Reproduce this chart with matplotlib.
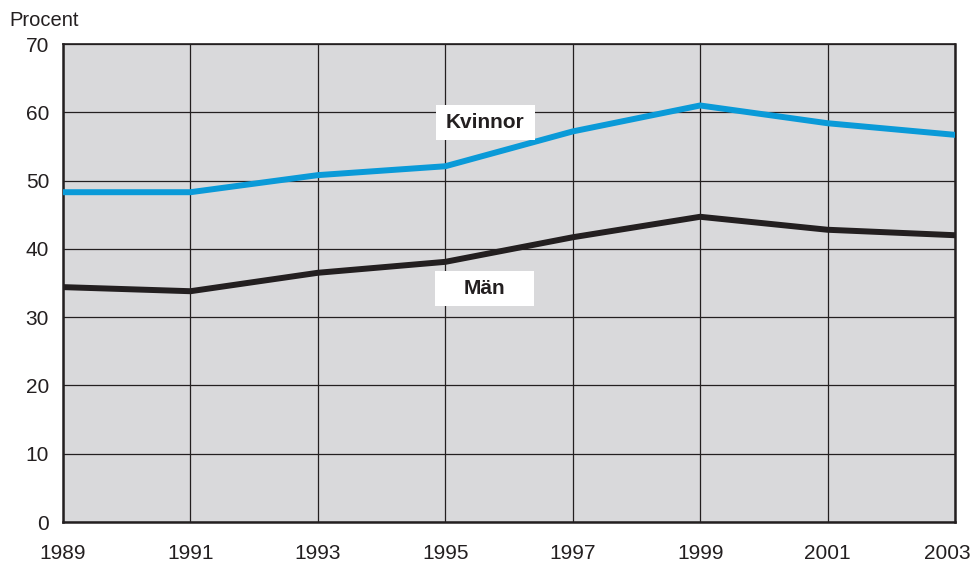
import numpy as np
import matplotlib.pyplot as plt
import matplotlib.transforms as mtransforms
from matplotlib.patches import Rectangle

years = [1989, 1991, 1993, 1995, 1997, 1999, 2001, 2003]
kvinnor = [48.3, 48.3, 50.8, 52.1, 57.2, 61.0, 58.4, 56.7]
man = [34.4, 33.8, 36.5, 38.1, 41.7, 44.7, 42.8, 42.0]
yticks = [0, 10, 20, 30, 40, 50, 60, 70]

plt.rcParams['font.family'] = ['Liberation Sans', 'DejaVu Sans']

fig = plt.figure(figsize=(9.72, 5.63), dpi=100)
ax = fig.add_axes([0.0648, 0.0728, 0.9177, 0.849])
ax.set_facecolor('#d9d9db')

ax.plot(years, kvinnor, color='#0a9ad8', lw=4.3, solid_joinstyle='miter', zorder=3)
ax.plot(years, man, color='#231f20', lw=4.3, solid_joinstyle='miter', zorder=3)

ax.set_xlim(1989, 2003)
ax.set_ylim(0, 70)
ax.set_xticks(years)
ax.set_yticks(yticks)
ax.tick_params(length=0, labelsize=15, colors='#231f20')
ax.tick_params(axis='x', pad=16)
ax.tick_params(axis='y', pad=10)
ax.grid(True, color='#231f20', lw=0.9)
ax.set_axisbelow(True)
for s in ax.spines.values():
    s.set_color('#231f20')
    s.set_linewidth(1.8)
ax.spines['top'].set_linewidth(1.2)

# last year label sits inside the figure edge
last = ax.get_xticklabels()[-1]
last.set_transform(last.get_transform() + mtransforms.ScaledTranslation(-8 / 100, 0, fig.dpi_scale_trans))

# label boxes (fixed size, like the original)
for cx, cy, txt in [(1995.63, 58.5, 'Kvinnor'), (1995.62, 34.2, 'Män')]:
    ax.add_patch(Rectangle((cx - 0.78, cy - 2.56), 1.56, 5.12, fc='white', ec='none', zorder=4))
    ax.text(cx, cy, txt, fontsize=15, fontweight='bold', ha='center', va='center',
            color='#231f20', zorder=5)

fig.text(0.010, 0.963, 'Procent', fontsize=14.5, color='#231f20', ha='left', va='center')

fig.savefig('out.png', dpi=100)
